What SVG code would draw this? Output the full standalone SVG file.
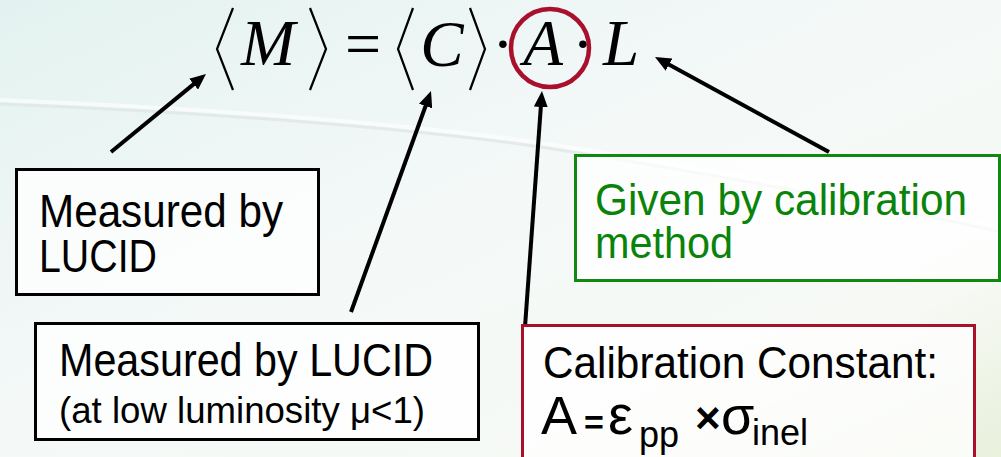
<svg xmlns="http://www.w3.org/2000/svg" width="1001" height="457" viewBox="0 0 1001 457">
  <defs>
    <linearGradient id="bg" x1="0" y1="0" x2="1" y2="1">
      <stop offset="0" stop-color="#e3f2f0"/>
      <stop offset="0.45" stop-color="#f4f9f8"/>
      <stop offset="0.8" stop-color="#f6f9f4"/>
      <stop offset="1" stop-color="#e9f0dc"/>
    </linearGradient>
    <marker id="arrow" viewBox="0 0 16 14" markerWidth="16" markerHeight="14" refX="8" refY="7" orient="auto" markerUnits="userSpaceOnUse">
      <path d="M0,0 L16,7 L0,14 z" fill="#000"/>
    </marker>
    <style>
      .box { fill: #ffffff; fill-opacity: 0.75; stroke-width: 3; }
      .black { stroke: #000; }
      .green { stroke: #118811; }
      .red { stroke: #a8102c; }
      .t { font-family: "Liberation Sans", Arial, sans-serif; fill: #000; }
      .tg { font-family: "Liberation Sans", Arial, sans-serif; fill: #0a830a; }
      .m { font-family: "Liberation Serif", "Times New Roman", serif; font-style: italic; fill: #000; font-size: 65px; }
      .mr { font-family: "Liberation Serif", "Times New Roman", serif; fill: #000; font-size: 64px; }
      .br { fill: none; stroke: #000; stroke-width: 2.2; }
      .conn { stroke: #000; stroke-width: 4; fill: none; marker-end: url(#arrow); }
    </style>
  </defs>

  <rect x="0" y="0" width="1001" height="457" fill="url(#bg)"/>
  <path d="M0,104 C200,112 420,128 560,150 C700,172 880,205 1001,232" fill="none" stroke="#dde5e3" stroke-width="3" opacity="0.7"/>
  <path d="M0,100 C200,108 420,124 560,146 C700,168 880,201 1001,228" fill="none" stroke="#ffffff" stroke-width="4" opacity="0.6"/>

  <g id="equation">
    <polyline class="br" points="233,8 217,49 233,90"/>
    <text class="m" x="268" y="65" text-anchor="middle">M</text>
    <polyline class="br" points="310,8 326,49 310,90"/>
    <text class="mr" x="363" y="65" text-anchor="middle">=</text>
    <polyline class="br" points="413,8 398,49 413,90"/>
    <text class="m" x="442" y="66" text-anchor="middle">C</text>
    <polyline class="br" points="470,8 485,49 470,90"/>
    <text class="mr" x="503" y="65" text-anchor="middle">·</text>
    <text class="m" x="543" y="65" text-anchor="middle">A</text>
    <text class="mr" x="583" y="65" text-anchor="middle">·</text>
    <text class="m" x="621" y="65" text-anchor="middle">L</text>
    <circle cx="550" cy="48" r="39" fill="none" stroke="#a8102c" stroke-width="4.5"/>
  </g>

  <g id="connectors">
    <line class="conn" x1="111" y1="152" x2="199.8" y2="79.1"/>
    <line class="conn" x1="351" y1="312" x2="428.3" y2="98.5"/>
    <line class="conn" x1="525" y1="327" x2="541.4" y2="99"/>
    <line class="conn" x1="829" y1="152" x2="662" y2="60.8"/>
  </g>

  <g id="box-measured-M">
    <rect class="box black" x="16.5" y="169.5" width="302" height="125"/>
    <text class="t" font-size="46" x="39" y="227" textLength="244" lengthAdjust="spacingAndGlyphs">Measured by</text>
    <text class="t" font-size="46" x="39" y="272" textLength="118" lengthAdjust="spacingAndGlyphs">LUCID</text>
  </g>

  <g id="box-measured-C">
    <rect class="box black" x="35.5" y="323.5" width="443" height="116"/>
    <text class="t" font-size="46" x="59" y="376" textLength="374" lengthAdjust="spacingAndGlyphs">Measured by LUCID</text>
    <text class="t" font-size="36" x="59" y="423" textLength="366" lengthAdjust="spacingAndGlyphs">(at low luminosity μ&lt;1)</text>
  </g>

  <g id="box-given-L">
    <rect class="box green" x="575.5" y="155.5" width="424" height="125"/>
    <text class="tg" font-size="44" x="595" y="215" textLength="372" lengthAdjust="spacingAndGlyphs">Given by calibration</text>
    <text class="tg" font-size="44" x="595" y="258" textLength="138" lengthAdjust="spacingAndGlyphs">method</text>
  </g>

  <g id="box-calibration-A">
    <rect class="box red" x="522.5" y="325.5" width="452" height="150"/>
    <text class="t" font-size="44" x="543" y="378" textLength="395" lengthAdjust="spacingAndGlyphs">Calibration Constant:</text>
    <text class="t" font-size="54" y="434"><tspan x="541">A</tspan><tspan x="584" y="434" font-size="34" font-weight="bold">=</tspan><tspan x="608" y="434" font-size="56">ε</tspan><tspan x="639" y="447" font-size="36">pp</tspan><tspan x="695" y="433" font-size="44" font-weight="bold">×</tspan><tspan x="721" y="434" font-size="54">σ</tspan><tspan x="752" y="445" font-size="36">inel</tspan></text>
  </g>
</svg>
